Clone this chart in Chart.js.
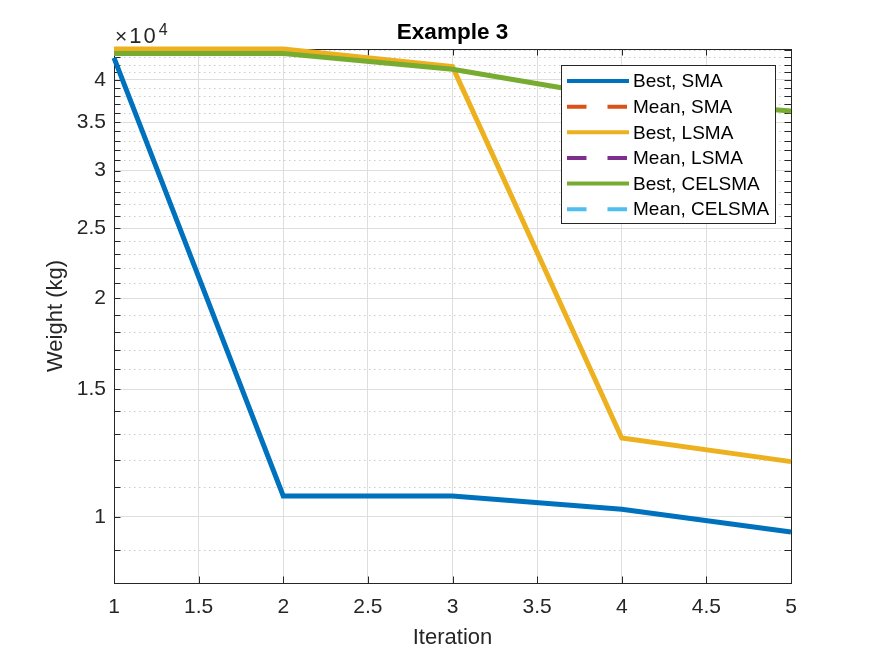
<!DOCTYPE html>
<html>
<head>
<meta charset="utf-8">
<title>Example 3</title>
<script src="https://cdn.jsdelivr.net/npm/chart.js@4.4.1/dist/chart.umd.min.js"></script>
<style>
html, body { margin: 0; padding: 0; background: #fff; }
#wrap { width: 875px; height: 656px; }
</style>
</head>
<body>
<div id="wrap"><canvas id="weightchart"></canvas></div>
<script>
// values (weight in kg)
var iteration = [1, 2, 3, 4, 5];
var bestSMA = [42900, 10690, 10690, 10250, 9535];
var meanSMA = [null, null, null, null, null];
var bestLSMA = [44120, 44120, 41720, 12850, 11920];
var meanLSMA = [null, null, null, null, null];
var bestCELSMA = [43500, 43500, 41370, 37770, 36250];
var meanCELSMA = [null, null, null, null, null];

var seriesNames = ['Best, SMA', 'Mean, SMA', 'Best, LSMA', 'Mean, LSMA', 'Best, CELSMA', 'Mean, CELSMA'];

var xTicks = [1, 1.5, 2, 2.5, 3, 3.5, 4, 4.5, 5];
var xTickLabels = ['1', '1.5', '2', '2.5', '3', '3.5', '4', '4.5', '5'];
var yMajorTicks = [10000, 15000, 20000, 25000, 30000, 35000, 40000];
var yTickLabels = ['1', '1.5', '2', '2.5', '3', '3.5', '4'];
var yMinorTicks = [9000, 11000, 12000, 13000, 14000, 16000, 17000, 18000, 19000,
    21000, 22000, 23000, 24000, 26000, 27000, 28000, 29000, 31000, 32000, 33000, 34000,
    36000, 37000, 38000, 39000, 41000, 42000, 43000, 44000];

var FONT = "'Liberation Sans', Arial, Helvetica, sans-serif";
var AXCOL = '#262626';

function points(arr) {
    return iteration.map(function (x, i) { return {x: x, y: arr[i]}; });
}

function line(ctx, x1, y1, x2, y2) {
    ctx.beginPath();
    ctx.moveTo(x1, y1);
    ctx.lineTo(x2, y2);
    ctx.stroke();
}

// matlab-like box, inward ticks, dotted minor grid, legend, title, exponent
var matlabLook = {
    id: 'matlabLook',
    beforeDatasetsDraw: function (chart) {
        var ctx = chart.ctx, a = chart.chartArea, x = chart.scales.x, y = chart.scales.y;
        ctx.save();
        ctx.lineWidth = 1;
        ctx.strokeStyle = '#cccccc';
        ctx.setLineDash([1.5, 3.5]);
        yMinorTicks.forEach(function (v) {
            var py = Math.round(y.getPixelForValue(v)) + 0.5;
            line(ctx, a.left, py, a.right, py);
        });
        ctx.setLineDash([]);
        ctx.strokeStyle = AXCOL;
        var tl = 6.5;
        yMajorTicks.concat(yMinorTicks).forEach(function (v) {
            var py = Math.round(y.getPixelForValue(v)) + 0.5;
            line(ctx, a.left, py, a.left + tl, py);
            line(ctx, a.right, py, a.right - tl, py);
        });
        xTicks.forEach(function (v) {
            var px = Math.round(x.getPixelForValue(v)) + 0.5;
            line(ctx, px, a.bottom, px, a.bottom - tl);
            line(ctx, px, a.top, px, a.top + tl);
        });
        ctx.strokeRect(Math.round(a.left) + 0.5, Math.round(a.top) + 0.5,
            Math.round(a.right - a.left), Math.round(a.bottom - a.top));
        ctx.restore();
    },
    afterDatasetsDraw: function (chart) {
        var ctx = chart.ctx, a = chart.chartArea;
        ctx.save();
        // legend
        var bx = 561.5, by = 65.5, bw = 214, bh = 158;
        ctx.fillStyle = '#fff';
        ctx.fillRect(bx, by, bw, bh);
        ctx.strokeStyle = AXCOL;
        ctx.lineWidth = 1;
        ctx.strokeRect(bx, by, bw, bh);
        ctx.font = '19px ' + FONT;
        ctx.textBaseline = 'middle';
        ctx.textAlign = 'left';
        chart.data.datasets.forEach(function (ds, i) {
            var ry = 81 + i * 25.65;
            ctx.strokeStyle = ds.borderColor;
            ctx.lineWidth = 4;
            ctx.setLineDash(ds.borderDash || []);
            line(ctx, 567, ry, 629, ry);
            ctx.setLineDash([]);
            ctx.fillStyle = '#000';
            ctx.fillText(ds.label, 633, ry + 1);
        });
        // title
        ctx.fillStyle = '#000';
        ctx.font = 'bold 22.5px ' + FONT;
        ctx.textAlign = 'center';
        ctx.fillText('Example 3', (a.left + a.right) / 2, 33);
        // exponent of the y axis: "x10" then a raised 4
        ctx.fillStyle = AXCOL;
        ctx.textAlign = 'left';
        ctx.textBaseline = 'alphabetic';
        ctx.font = '21px ' + FONT;
        ctx.fillText('\u00d7', a.left + 1, 43);
        var wx = ctx.measureText('\u00d7').width;
        ctx.font = '22px ' + FONT;
        ctx.letterSpacing = '2px';
        ctx.fillText('10', a.left + 3 + wx, 43);
        var w10 = ctx.measureText('10').width;
        ctx.letterSpacing = '0px';
        ctx.font = '16px ' + FONT;
        ctx.fillText('4', a.left + 3 + wx + w10 + 1, 34.5);
        ctx.restore();
    }
};

Chart.defaults.font.family = FONT;
Chart.defaults.color = AXCOL;

var colors = ['#0072BD', '#D95319', '#EDB120', '#7E2F8E', '#77AC30', '#4DBEEE'];
var series = [bestSMA, meanSMA, bestLSMA, meanLSMA, bestCELSMA, meanCELSMA];

var ctx = document.getElementById('weightchart');
var weightChart = new Chart(ctx, {
    type: 'line',
    data: {
        datasets: series.map(function (s, i) {
            return {
                label: seriesNames[i],
                data: points(s),
                borderColor: colors[i],
                backgroundColor: colors[i],
                borderWidth: 5,
                borderDash: i % 2 === 1 ? [19.5, 21] : [],
                pointRadius: 0,
                tension: 0,
                clip: false,
                order: series.length - i
            };
        })
    },
    options: {
        responsive: true,
        maintainAspectRatio: false,
        animation: false,
        layout: {padding: {left: 0, right: 84, top: 49, bottom: 0}},
        plugins: {
            legend: {display: false},
            title: {display: false},
            tooltip: {enabled: false}
        },
        scales: {
            x: {
                type: 'linear',
                min: 1,
                max: 5,
                afterBuildTicks: function (scale) {
                    scale.ticks = xTicks.map(function (v) { return {value: v}; });
                },
                afterFit: function (scale) { scale.height = 73; },
                ticks: {
                    autoSkip: false,
                    maxRotation: 0,
                    padding: 12,
                    font: {size: 21},
                    color: AXCOL,
                    callback: function (v) {
                        var k = xTicks.indexOf(v);
                        return k >= 0 ? xTickLabels[k] : '';
                    }
                },
                grid: {color: '#dedede', lineWidth: 1, drawTicks: false},
                border: {display: false},
                title: {
                    display: true,
                    text: 'Iteration',
                    font: {size: 22},
                    color: AXCOL,
                    padding: {top: 0, bottom: 5}
                }
            },
            y: {
                type: 'logarithmic',
                min: 8111,
                max: 44120,
                afterBuildTicks: function (scale) {
                    scale.ticks = yMajorTicks.map(function (v) { return {value: v}; });
                },
                afterFit: function (scale) { scale.width = 114; },
                ticks: {
                    autoSkip: false,
                    padding: 8,
                    font: {size: 21},
                    color: AXCOL,
                    callback: function (v) {
                        var k = yMajorTicks.indexOf(v);
                        return k >= 0 ? yTickLabels[k] : '';
                    }
                },
                grid: {color: '#dedede', lineWidth: 1, drawTicks: false},
                border: {display: false},
                title: {
                    display: true,
                    text: 'Weight (kg)',
                    font: {size: 22},
                    color: AXCOL,
                    padding: {top: 43, bottom: 0}
                }
            }
        }
    },
    plugins: [matlabLook]
});
</script>
</body>
</html>
